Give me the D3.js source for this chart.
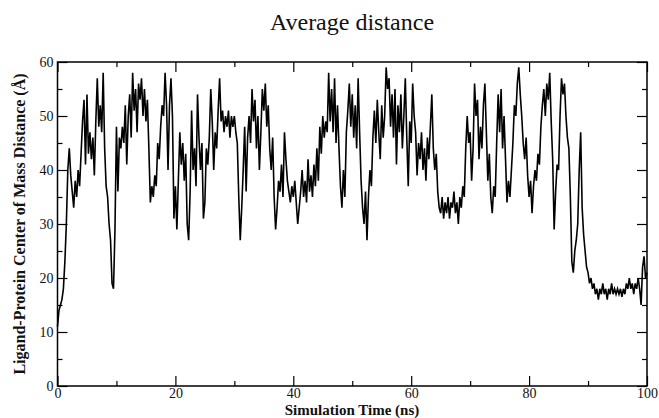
<!DOCTYPE html>
<html>
<head>
<meta charset="utf-8">
<script src="https://cdn.jsdelivr.net/npm/d3@7"></script>
<style>
  body { margin: 0; background: #fff; }
  text { font-family: "Liberation Serif", "DejaVu Serif", serif; fill: #111; }
</style>
</head>
<body>
<div id="chart"></div>
<script>
// データ (0.25 ns 刻み)
const timeStep = 0.25;
const distance = [
  // 0 - 4.75
  11, 14, 15, 16, 18, 23, 30, 40, 44, 39, 36, 33, 38, 35, 40, 37, 43, 49, 53, 41,
  // 5 - 9.75
  54, 43, 47, 42, 46, 39, 49, 57, 48, 52, 47, 58, 44, 37, 35, 30, 27, 19, 18, 29,
  // 10 - 14.75
  48, 36, 46, 44, 48, 45, 52, 41, 50, 54, 46, 58, 51, 55, 47, 56, 53, 57, 50, 55,
  // 15 - 19.75
  49, 53, 44, 34, 37, 35, 39, 37, 45, 42, 48, 52, 50, 58, 52, 40, 52, 57, 50, 31,
  // 20 - 24.75
  37, 29, 38, 47, 41, 45, 38, 43, 30, 27, 36, 51, 40, 44, 37, 54, 46, 40, 45, 31,
  // 25 - 29.75
  34, 44, 41, 46, 55, 49, 40, 47, 44, 51, 57, 49, 51, 47, 50, 48, 51, 46, 50, 48,
  // 30 - 34.75
  50, 47, 45, 35, 27, 33, 40, 48, 36, 46, 50, 45, 55, 49, 53, 44, 50, 40, 47, 55,
  // 35 - 39.75
  51, 56, 48, 52, 44, 40, 46, 35, 29, 33, 38, 36, 41, 35, 47, 42, 38, 36, 34, 37,
  // 40 - 44.75
  35, 38, 34, 30, 33, 36, 40, 35, 38, 34, 42, 36, 39, 35, 41, 37, 44, 38, 48, 43,
  // 45 - 49.75
  50, 46, 49, 47, 58, 49, 55, 47, 57, 45, 52, 44, 37, 33, 40, 35, 47, 51, 56, 48,
  // 50 - 54.75
  54, 46, 52, 44, 57, 47, 38, 33, 30, 36, 27, 35, 40, 37, 46, 51, 45, 53, 47, 42,
  // 55 - 59.75
  52, 46, 50, 59, 55, 57, 48, 54, 46, 55, 41, 52, 47, 54, 44, 50, 57, 46, 37, 49,
  // 60 - 64.75
  45, 56, 50, 47, 39, 45, 42, 47, 40, 44, 38, 46, 42, 48, 54, 44, 40, 43, 36, 33,
  // 65 - 69.75
  32, 35, 31, 34, 32, 35, 31, 34, 33, 36, 32, 34, 30, 35, 33, 37, 35, 44, 50, 45,
  // 70 - 74.75
  47, 38, 44, 56, 50, 53, 42, 48, 44, 52, 56, 47, 38, 43, 35, 32, 37, 35, 45, 54,
  // 75 - 79.75
  47, 55, 44, 50, 42, 34, 38, 35, 40, 45, 52, 50, 56, 59, 54, 50, 45, 42, 46, 39,
  // 80 - 84.75
  35, 38, 32, 37, 40, 38, 43, 41, 48, 52, 55, 50, 56, 53, 58, 49, 42, 29, 36, 41,
  // 85 - 89.75
  40, 50, 57, 54, 56, 50, 46, 44, 35, 23, 21, 25, 27, 30, 40, 47, 33, 28, 25, 22,
  // 90 - 94.75
  21, 19, 20, 18, 19, 17, 18, 16, 18, 17, 19, 17, 18, 16, 18, 17, 19, 17, 18, 17,
  // 95 - 99.75
  18, 17, 18, 16.5, 18, 17, 19, 18, 20, 18, 19, 17, 19, 18, 20, 18, 15, 22, 24, 20,
  // 100
  21
];
const xTicks = [0, 20, 40, 60, 80, 100];
const yTicks = [0, 10, 20, 30, 40, 50, 60];

const titleText = "Average distance";
const xLabel = "Simulation Time (ns)";
const yLabel = "Ligand-Protein Center of Mass Distance (Å)";

// SVGのサイズ
const width = 659;
const height = 418;
const margin = { top: 62, right: 12, bottom: 32, left: 57.5 };

const svg = d3.select("#chart")
  .append("svg")
  .attr("width", width)
  .attr("height", height);

const xScale = d3.scaleLinear().domain([0, 100]).range([margin.left, width - margin.right]);
const yScale = d3.scaleLinear().domain([0, 60]).range([height - margin.bottom, margin.top]);

const points = distance.map((v, i) => [i * timeStep, v]);

// 折れ線
const line = d3.line().x(d => xScale(d[0])).y(d => yScale(d[1]));
svg.append("path")
  .datum(points)
  .attr("fill", "none")
  .attr("stroke", "#000")
  .attr("stroke-width", 1.6)
  .attr("stroke-linejoin", "miter")
  .attr("d", line);

// 軸 (内向きの目盛り)
const minorX = d3.range(10, 100, 20);
const minorY = d3.range(5, 60, 10);
const bottom = height - margin.bottom;
const right = width - margin.right;

function tickAxis(axis, tickVals, size) {
  return axis.tickValues(tickVals).tickSize(size).tickFormat("");
}

// 下
const xAxisG = svg.append("g").attr("transform", `translate(0,${bottom})`)
  .call(d3.axisTop(xScale).tickValues(xTicks).tickSize(10).tickFormat(d3.format("d")));
svg.append("g").attr("transform", `translate(0,${bottom})`)
  .call(tickAxis(d3.axisTop(xScale), minorX, 5));
// 上
svg.append("g").attr("transform", `translate(0,${margin.top})`)
  .call(tickAxis(d3.axisBottom(xScale), xTicks, 10));
svg.append("g").attr("transform", `translate(0,${margin.top})`)
  .call(tickAxis(d3.axisBottom(xScale), minorX, 5));
// 左
const yAxisG = svg.append("g").attr("transform", `translate(${margin.left},0)`)
  .call(d3.axisRight(yScale).tickValues(yTicks).tickSize(10));
svg.append("g").attr("transform", `translate(${margin.left},0)`)
  .call(tickAxis(d3.axisRight(yScale), minorY, 5));
// 右
svg.append("g").attr("transform", `translate(${right},0)`)
  .call(tickAxis(d3.axisLeft(yScale), yTicks, 10));
svg.append("g").attr("transform", `translate(${right},0)`)
  .call(tickAxis(d3.axisLeft(yScale), minorY, 5));

svg.selectAll(".domain").remove();
svg.selectAll(".tick line").attr("stroke", "#000").attr("stroke-width", 1.2);
svg.selectAll(".tick text")
  .style("font-family", "'Liberation Serif', serif")
  .style("font-size", "14px")
  .attr("fill", "#111");

// x 目盛りラベルを枠の下へ
xAxisG.selectAll(".tick text").attr("y", 2).attr("dy", "0.71em");
// y 目盛りラベルを枠の左へ
yAxisG.selectAll(".tick text").attr("x", -4).attr("text-anchor", "end");

// 枠
svg.append("rect")
  .attr("x", margin.left).attr("y", margin.top)
  .attr("width", right - margin.left).attr("height", bottom - margin.top)
  .attr("fill", "none").attr("stroke", "#000").attr("stroke-width", 1.5);

// タイトル
svg.append("text")
  .attr("x", 352).attr("y", 30)
  .attr("text-anchor", "middle")
  .style("font-size", "24px")
  .text(titleText);

// x軸ラベル
svg.append("text")
  .attr("x", 352).attr("y", 415)
  .attr("text-anchor", "middle")
  .style("font-size", "15px")
  .style("font-weight", "bold")
  .text(xLabel);

// y軸ラベル
svg.append("text")
  .attr("transform", `translate(25,${(margin.top + bottom) / 2}) rotate(-90)`)
  .attr("text-anchor", "middle")
  .style("font-size", "16px")
  .style("font-weight", "bold")
  .text(yLabel);
</script>
</body>
</html>
